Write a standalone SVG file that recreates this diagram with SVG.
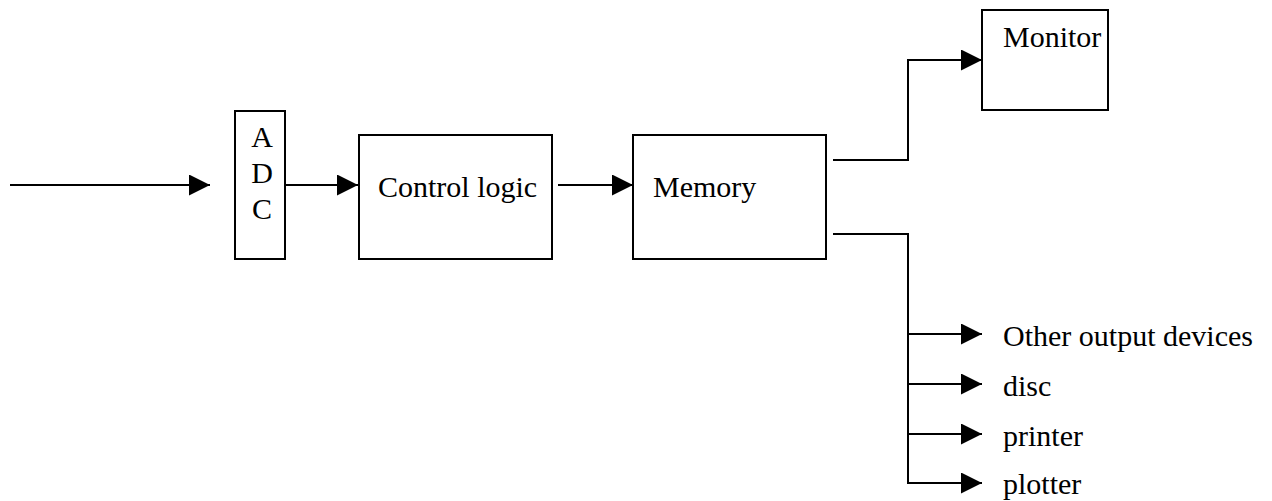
<svg xmlns="http://www.w3.org/2000/svg" width="1272" height="501" viewBox="0 0 1272 501">
  <style>
    .box { fill: #fff; stroke: #000; stroke-width: 2; }
    .wire { fill: none; stroke: #000; stroke-width: 2; }
    .lbl { font-family: "Liberation Serif", "Times New Roman", serif; font-size: 30px; fill: #000; }
  </style>
  <defs>
    <marker id="arrow" markerUnits="userSpaceOnUse" markerWidth="21" markerHeight="21" refX="21" refY="10.5" orient="auto">
      <path d="M0,0 L21,10.5 L0,21 Z" fill="#000"/>
    </marker>
  </defs>
  <rect width="1272" height="501" fill="#fff"/>

  <g id="connectors">
    <line class="wire" x1="10" y1="185" x2="210" y2="185" marker-end="url(#arrow)"/>
    <line class="wire" x1="285" y1="185" x2="358" y2="185" marker-end="url(#arrow)"/>
    <line class="wire" x1="558" y1="185" x2="633" y2="185" marker-end="url(#arrow)"/>
    <polyline class="wire" points="833,160 908,160 908,60 982,60" marker-end="url(#arrow)"/>
    <polyline class="wire" points="833,234 908,234 908,483"/>
    <line class="wire" x1="908" y1="334" x2="982" y2="334" marker-end="url(#arrow)"/>
    <line class="wire" x1="908" y1="384" x2="982" y2="384" marker-end="url(#arrow)"/>
    <line class="wire" x1="908" y1="434" x2="982" y2="434" marker-end="url(#arrow)"/>
    <line class="wire" x1="907" y1="483" x2="982" y2="483" marker-end="url(#arrow)"/>
  </g>

  <g id="adc">
    <rect class="box" x="235" y="111" width="50" height="148"/>
    <text class="lbl" x="262" y="147" text-anchor="middle">A</text>
    <text class="lbl" x="262" y="183" text-anchor="middle">D</text>
    <text class="lbl" x="262" y="219" text-anchor="middle">C</text>
  </g>

  <g id="control-logic">
    <rect class="box" x="359" y="135" width="193" height="124"/>
    <text class="lbl" x="378" y="197">Control logic</text>
  </g>

  <g id="memory">
    <rect class="box" x="633" y="135" width="193" height="124"/>
    <text class="lbl" x="653" y="197">Memory</text>
  </g>

  <g id="monitor">
    <rect class="box" x="982" y="10" width="126" height="100"/>
    <text class="lbl" x="1003" y="47">Monitor</text>
  </g>

  <g id="outputs">
    <text class="lbl" x="1003" y="346">Other output devices</text>
    <text class="lbl" x="1003" y="396">disc</text>
    <text class="lbl" x="1003" y="446">printer</text>
    <text class="lbl" x="1003" y="494">plotter</text>
  </g>
</svg>
